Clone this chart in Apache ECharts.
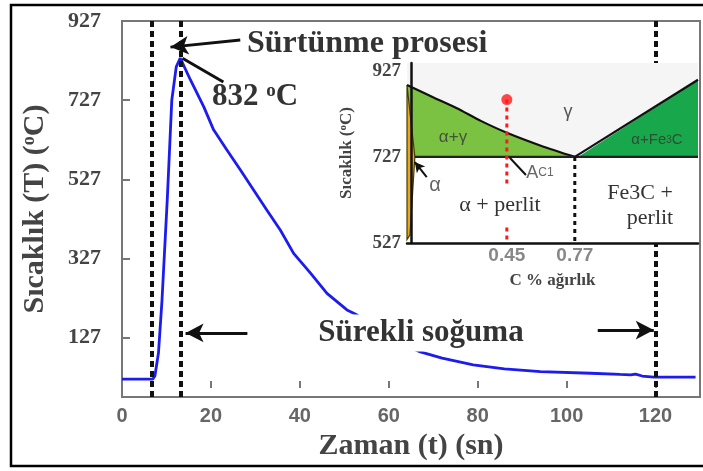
<!DOCTYPE html>
<html>
<head>
<meta charset="utf-8">
<script src="https://cdn.jsdelivr.net/npm/echarts@6/dist/echarts.min.js"></script>
<style>
html, body { margin: 0; padding: 0; background: #fff; }
#chart { width: 703px; height: 471px; }
</style>
</head>
<body>
<div id="chart"></div>
<script>
var chart = echarts.init(document.getElementById('chart'));

// cooling curve: time (s) / temperature (C)
var timeSec = [0, 4, 6.9, 7.4, 8.2, 9.0, 10.2, 11.2, 12.2, 13.1, 15.4, 18.4, 20.6, 23.6, 26.6, 29.6, 32.6, 35.6, 38.6, 42.4, 46.1, 50.6, 52.9, 56, 60, 64, 67.1, 72, 79, 86, 94.1, 105.4, 112, 114.4, 115.5, 117, 119.6, 124, 129];
var tempC = [22, 22, 22, 30, 88, 222, 480, 727, 811, 833, 778, 710, 652, 601, 551, 500, 449, 399, 340, 290, 239, 197, 184, 160, 128, 106, 91, 75, 58, 48, 41, 37, 34, 33, 35, 30, 27, 27, 27];
var processMarks = [6.8, 13.3, 120];
var mainTempTicks = [127, 327, 527, 727, 927];
var timeTicks = [0, 20, 40, 60, 80, 100, 120];

// inset Fe-C diagram
var carbonTicks = [0.45, 0.77];
var insetTempTicks = [527, 727, 927];
var a3Line = [[-0.02, 894], [0.1, 866], [0.21, 841], [0.33, 810], [0.45, 783], [0.61, 753], [0.77, 727]];
var eutectoidLine = [[0.017, 727], [1.35, 727]];
var acmLine = [[0.77, 727], [1.35, 906]];
var alphaRegion = [[-0.02, 894], [0.017, 727], [-0.006, 546], [-0.02, 535]];
var gammaFe3cRegion = [[0.785, 727], [1.35, 906], [1.35, 727]];
var probeLine = [[0.45, 860], [0.45, 527]];
var eutectoidDrop = [[0.77, 727], [0.77, 527]];
var insetBox = [[-0.02, 527], [-0.02, 945], [1.35, 945], [1.35, 527]];

var alphaGammaRegion = a3Line.concat([[0.017, 727]]);
var gammaRegion = [[-0.02, 945]].concat(a3Line, acmLine.slice(1), [[1.35, 945]]);

var regions = [
    {pts: insetBox, fill: '#fff'},
    {pts: gammaRegion, fill: '#f5f5f5'},
    {pts: alphaGammaRegion, fill: '#7cc242'},
    {pts: gammaFe3cRegion, fill: '#19a74b'},
    {pts: alphaRegion, fill: '#e6a91c', stroke: '#4a3a00'}
];

var serif = '"Liberation Serif", "Times New Roman", serif';
var sans = '"Liberation Sans", Arial, sans-serif';

function arrow(from, to, withHead) {
    return [
        {coord: from, symbol: 'none'},
        {coord: to, symbol: withHead ? 'arrow' : 'none', symbolSize: [14, 18]}
    ];
}

function blackLine(data, extra) {
    return Object.assign({
        type: 'line', xAxisIndex: 1, yAxisIndex: 1, data: data, symbol: 'none', z: 7,
        lineStyle: {color: '#111', width: 2.2}, silent: true
    }, extra || {});
}

var option = {
    animation: false,
    backgroundColor: '#fff',
    grid: [
        {left: 122, top: 21, width: 578, height: 376, show: true, borderColor: '#777', borderWidth: 2, backgroundColor: 'transparent'},
        {left: 407, top: 63, width: 291, height: 180, show: false}
    ],
    xAxis: [
        {
            type: 'value', gridIndex: 0, min: 0, max: 130, interval: 20,
            axisLine: {show: false}, splitLine: {show: false},
            axisTick: {inside: true, length: 7, lineStyle: {color: '#777', width: 2}, customValues: timeTicks},
            axisLabel: {margin: 9, color: '#666', fontFamily: sans, fontWeight: 'bold', fontSize: 20, customValues: timeTicks},
            name: 'Zaman (t) (sn)', nameLocation: 'middle', nameGap: 31,
            nameTextStyle: {fontFamily: serif, fontWeight: 'bold', fontSize: 30, color: '#444'}
        },
        {
            type: 'value', gridIndex: 1, min: -0.02, max: 1.35, z: 8,
            axisLine: {show: true, lineStyle: {color: '#111', width: 2.5}},
            splitLine: {show: false}, axisTick: {show: false},
            axisLabel: {margin: 3, color: '#888', fontFamily: sans, fontWeight: 'bold', fontSize: 19, customValues: carbonTicks},
            name: 'C % ağırlık', nameLocation: 'middle', nameGap: 29,
            nameTextStyle: {fontFamily: serif, fontWeight: 'bold', fontSize: 17, color: '#444'}
        }
    ],
    yAxis: [
        {
            type: 'value', gridIndex: 0, min: -23, max: 927,
            axisLine: {show: false}, splitLine: {show: false},
            axisTick: {inside: true, length: 8, lineStyle: {color: '#777', width: 2}, customValues: mainTempTicks},
            axisLabel: {margin: 21, color: '#444', fontFamily: serif, fontWeight: 'bold', fontSize: 22, customValues: mainTempTicks},
            name: '{a|Sıcaklık (T) (}{s|o}{a|C)}', nameLocation: 'middle', nameGap: 72, nameRotate: 90,
            nameTextStyle: {
                rich: {
                    a: {fontFamily: serif, fontWeight: 'bold', fontSize: 30, color: '#444'},
                    s: {fontFamily: serif, fontWeight: 'bold', fontSize: 18, color: '#444', verticalAlign: 'top'}
                }
            }
        },
        {
            type: 'value', gridIndex: 1, min: 527, max: 945, z: 8,
            axisLine: {show: true, lineStyle: {color: '#111', width: 2.5}},
            splitLine: {show: false}, axisTick: {show: false},
            axisLabel: {margin: 6, color: '#444', fontFamily: serif, fontWeight: 'bold', fontSize: 19, customValues: insetTempTicks},
            name: '{a|Sıcaklık (}{s|o}{a|C)}', nameLocation: 'middle', nameGap: 52, nameRotate: 90,
            nameTextStyle: {
                rich: {
                    a: {fontFamily: serif, fontWeight: 'bold', fontSize: 17, color: '#444'},
                    s: {fontFamily: serif, fontWeight: 'bold', fontSize: 11, color: '#444', verticalAlign: 'top'}
                }
            }
        }
    ],
    series: [
        {
            type: 'line', xAxisIndex: 0, yAxisIndex: 0, z: 2,
            data: timeSec.map(function (t, i) { return [t, tempC[i]]; }),
            symbol: 'none', lineStyle: {color: '#1c1cf0', width: 2.8},
            markLine: {
                silent: true, symbol: 'none', label: {show: false},
                lineStyle: {color: '#111', width: 3, type: 'solid'},
                data: processMarks.map(function (t) {
                    return {xAxis: t, lineStyle: {color: '#111', width: 4, type: [6, 4]}};
                }).concat([
                    arrow([26.6, 879], [10.9, 861], true),
                    arrow([13.6, 833], [22.8, 773], false),
                    arrow([28.2, 139], [14.3, 139], true),
                    arrow([107, 146], [119.6, 146], true)
                ])
            }
        },
        {
            type: 'custom', xAxisIndex: 1, yAxisIndex: 1, z: 6, silent: true,
            data: regions.map(function (r) { return r.pts[0]; }),
            renderItem: function (params, api) {
                var r = regions[params.dataIndex];
                return {
                    type: 'polygon',
                    shape: {points: r.pts.map(function (p) { return api.coord(p); })},
                    style: {fill: r.fill, stroke: r.stroke || null, lineWidth: r.stroke ? 1.2 : 0}
                };
            }
        },
        blackLine(a3Line, {smooth: 0.3}),
        blackLine(eutectoidLine, {lineStyle: {color: '#222', width: 2.2}}),
        blackLine(acmLine),
        blackLine(eutectoidDrop, {lineStyle: {color: '#111', width: 3, type: [4, 4]}}),
        blackLine(probeLine, {lineStyle: {color: '#ff1a1a', width: 3, type: [4, 4]}}),
        {
            type: 'scatter', xAxisIndex: 1, yAxisIndex: 1, z: 9, silent: true,
            data: [probeLine[0]], symbolSize: 11, itemStyle: {color: '#ff1a1a'}
        },
        {
            type: 'line', xAxisIndex: 1, yAxisIndex: 1, z: 9, data: [], silent: true,
            markLine: {
                silent: true, z: 10, symbol: 'none', label: {show: false},
                lineStyle: {color: '#111', width: 2, type: 'solid'},
                data: [
                    arrow([0.464, 725], [0.54, 685], false),
                    [{coord: [0.073, 680], symbol: 'none'}, {coord: [0.017, 715], symbol: 'arrow', symbolSize: [8, 10]}]
                ]
            }
        }
    ],
    graphic: [
        {type: 'rect', z: 30, shape: {x: 11, y: 5, width: 700, height: 461}, style: {fill: null, stroke: '#000', lineWidth: 2.5}},
        {type: 'text', z: 30, x: 247, y: 44, style: {text: 'Sürtünme prosesi', font: 'bold 32px ' + serif, fill: '#333', align: 'left', verticalAlign: 'middle'}},
        {type: 'text', z: 30, x: 212, y: 97, style: {
            text: '{a|832 }{s|o}{a|C}', align: 'left', verticalAlign: 'middle',
            rich: {
                a: {font: 'bold 31px ' + serif, fill: '#333'},
                s: {font: 'bold 19px ' + serif, fill: '#333', verticalAlign: 'top'}
            }
        }},
        {type: 'text', z: 30, x: 421, y: 333, style: {text: 'Sürekli soğuma', font: 'bold 31px ' + serif, fill: '#333', align: 'center', verticalAlign: 'middle', backgroundColor: '#fff', padding: [3, 4]}},
        {type: 'text', z: 30, x: 568, y: 112, style: {text: 'γ', font: '18px ' + sans, fill: '#555', align: 'center', verticalAlign: 'middle'}},
        {type: 'text', z: 30, x: 453, y: 137, style: {text: 'α+γ', font: '17px ' + sans, fill: '#44523a', align: 'center', verticalAlign: 'middle'}},
        {type: 'text', z: 30, x: 657, y: 140, style: {
            text: '{a|α+Fe}{b|3}{a|C}', align: 'center', verticalAlign: 'middle',
            rich: {a: {font: '15px ' + sans, fill: '#2d4d35'}, b: {font: '10px ' + sans, fill: '#2d4d35'}}
        }},
        {type: 'text', z: 30, x: 540, y: 173, style: {
            text: '{a|A}{b|C1}', align: 'center', verticalAlign: 'middle',
            rich: {a: {font: '18px ' + sans, fill: '#666'}, b: {font: '12px ' + sans, fill: '#666'}}
        }},
        {type: 'text', z: 30, x: 435, y: 185, style: {text: 'α', font: '20px ' + sans, fill: '#666', align: 'center', verticalAlign: 'middle'}},
        {type: 'text', z: 30, x: 500, y: 205, style: {text: 'α + perlit', font: '22px ' + serif, fill: '#333', align: 'center', verticalAlign: 'middle', backgroundColor: '#fff', padding: [8, 3]}},
        {type: 'text', z: 30, x: 640, y: 193, style: {text: 'Fe3C +', font: '22px ' + serif, fill: '#333', align: 'center', verticalAlign: 'middle'}},
        {type: 'text', z: 30, x: 650, y: 218, style: {text: 'perlit', font: '22px ' + serif, fill: '#333', align: 'center', verticalAlign: 'middle'}}
    ]
};

chart.setOption(option);
</script>
</body>
</html>
